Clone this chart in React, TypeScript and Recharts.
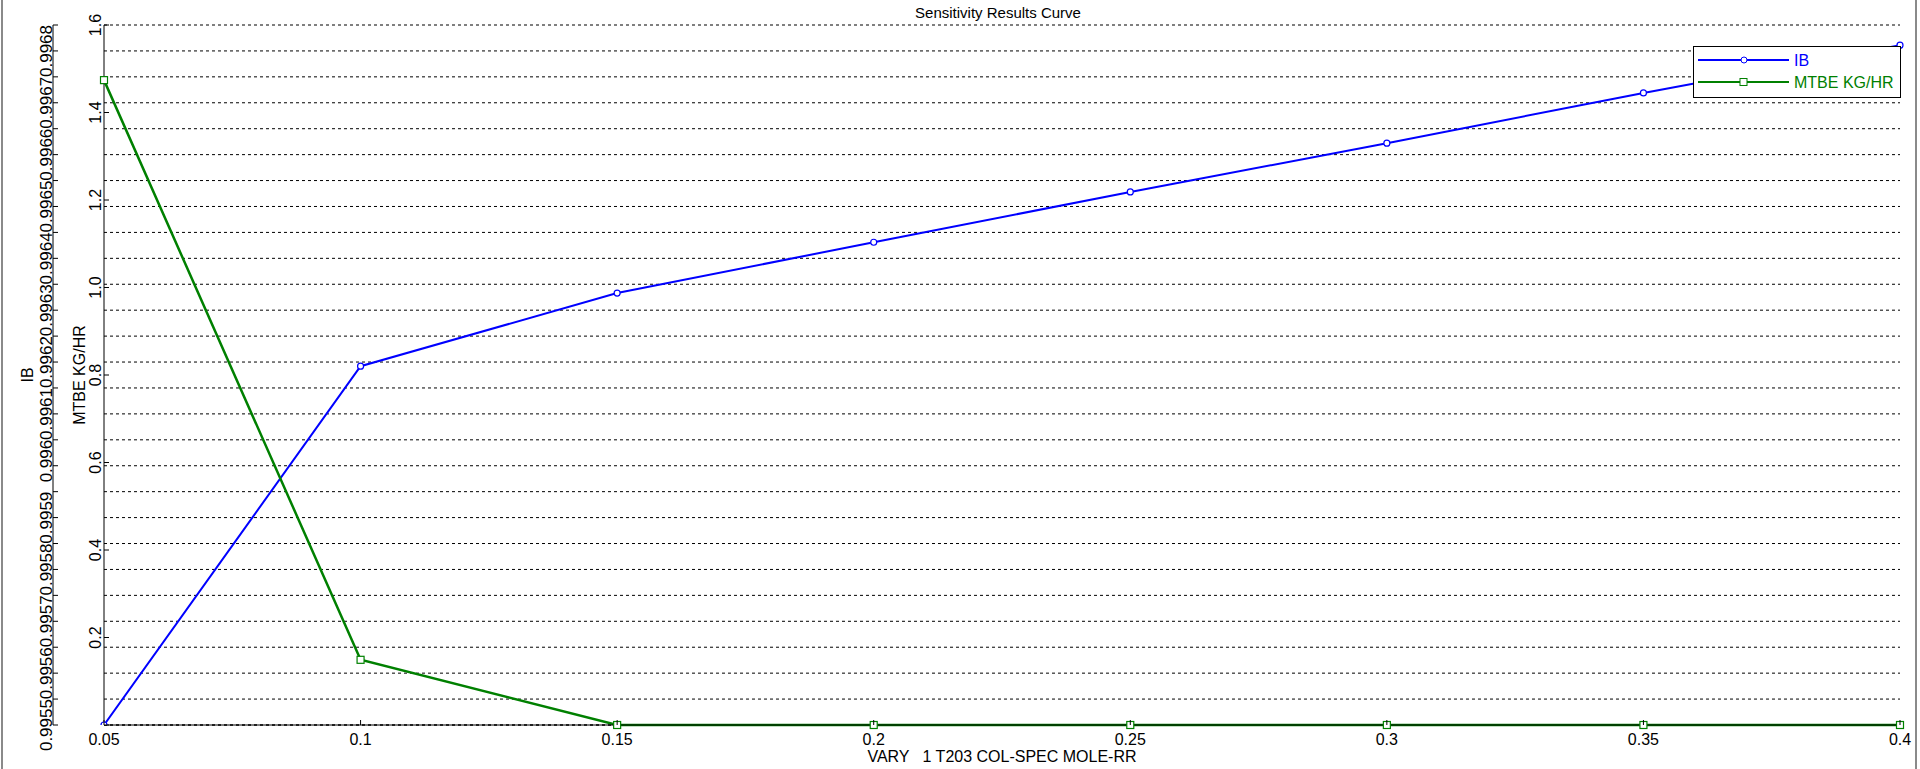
import { CartesianGrid, Legend, Line, LineChart, XAxis, YAxis } from 'recharts';

// sensitivity run: reflux ratio of T203 vs IB purity and MTBE flow
const varyRR = [0.05, 0.1, 0.15, 0.2, 0.25, 0.3, 0.35, 0.4];
const ibValues = [0.99545, 0.996142, 0.996283, 0.996381, 0.996478, 0.996572, 0.996669, 0.996761];
const mtbeValues = [1.474, 0.149, 0, 0, 0, 0, 0, 0];

const xTicks = [0.05, 0.1, 0.15, 0.2, 0.25, 0.3, 0.35, 0.4];
const mtbeTicks = [0, 0.2, 0.4, 0.6, 0.8, 1.0, 1.2, 1.4, 1.6];
const ibTickLabels = [
  '0.9955', '0.9956', '0.9957', '0.9958', '0.9959', '0.996', '0.9961',
  '0.9962', '0.9963', '0.9964', '0.9965', '0.9966', '0.9967', '0.9968',
];
// minor tick halfway below every labelled one
const ibTicks = ibTickLabels.flatMap((l) => [Number(l) - 0.00005, Number(l)]);

const BLUE = '#0000FF';
const GREEN = '#008000';
const FONT = "'Liberation Sans', Arial, sans-serif";

// axis ids are sorted: the first one sits next to the plot
const MTBE_AXIS = 'first';
const IB_AXIS = 'second';

const data = varyRR.map((x, i) => ({ x, ib: ibValues[i], mtbe: mtbeValues[i] }));

function IbTick({ x, y, payload }: any) {
  const label = ibTickLabels.find((l) => Math.abs(Number(l) - payload.value) < 1e-7);
  return (
    <g>
      <line x1={x} x2={x + 5} y1={y} y2={y} stroke="#000" />
      {label && (
        <text
          x={x - 1}
          y={y}
          transform={`rotate(-90 ${x - 1} ${y})`}
          textAnchor="end"
          fontSize={17}
          fontFamily={FONT}
          fill="#000"
        >
          {label}
        </text>
      )}
    </g>
  );
}

function MtbeTick({ x, y, payload }: any) {
  return (
    <g>
      <line x1={x} x2={x + 5} y1={y} y2={y} stroke="#000" />
      {payload.value > 0 && (
        <text
          x={x - 3}
          y={y}
          transform={`rotate(-90 ${x - 3} ${y})`}
          textAnchor="middle"
          fontSize={16}
          fontFamily={FONT}
          fill="#000"
        >
          {payload.value.toFixed(1)}
        </text>
      )}
    </g>
  );
}

function XTick({ x, y, payload }: any) {
  return (
    <g>
      <line x1={x} x2={x} y1={y} y2={y - 5} stroke="#000" />
      <text x={x} y={y + 20} textAnchor="middle" fontSize={16} fontFamily={FONT} fill="#000">
        {String(payload.value)}
      </text>
    </g>
  );
}

function RotTitle({ viewBox, text, dx }: any) {
  const bx = viewBox.x + dx;
  const cy = viewBox.y + viewBox.height / 2;
  return (
    <text
      x={bx}
      y={cy}
      transform={`rotate(-90 ${bx} ${cy})`}
      textAnchor="middle"
      fontSize={16}
      fontFamily={FONT}
      fill="#000"
    >
      {text}
    </text>
  );
}

function XTitle({ viewBox }: any) {
  return (
    <text
      x={viewBox.x + viewBox.width / 2}
      y={viewBox.y + 37}
      textAnchor="middle"
      fontSize={16}
      fontFamily={FONT}
      fill="#000"
      xmlSpace="preserve"
      style={{ whiteSpace: 'pre' }}
    >
      {'VARY   1 T203 COL-SPEC MOLE-RR'}
    </text>
  );
}

function LegendBox() {
  const rows = [
    { name: 'IB', color: BLUE, square: false },
    { name: 'MTBE KG/HR', color: GREEN, square: true },
  ];
  return (
    <div style={{ width: 206, height: 50, border: '1px solid #000', background: '#fff', position: 'relative' }}>
      <svg width={206} height={50} style={{ position: 'absolute', left: 0, top: 0 }}>
        {rows.map((r, i) => {
          const cy = 13 + i * 22;
          return (
            <g key={r.name}>
              <line x1={4} x2={95} y1={cy} y2={cy} stroke={r.color} strokeWidth={2} />
              {r.square ? (
                <rect x={46} y={cy - 3.5} width={7} height={7} fill="#fff" stroke={r.color} />
              ) : (
                <circle cx={50} cy={cy} r={3} fill="#fff" stroke={r.color} />
              )}
              <text x={100} y={cy + 6} fontSize={16} fontFamily={FONT} fill={r.color}>
                {r.name}
              </text>
            </g>
          );
        })}
      </svg>
    </div>
  );
}

export default function App() {
  return (
    <div
      style={{
        position: 'absolute',
        left: 0,
        top: 0,
        width: 1920,
        height: 769,
        background: '#fff',
        fontFamily: FONT,
      }}
    >
      <div style={{ position: 'absolute', left: 1, top: 0, width: 2, height: 769, background: '#8a8a8a' }} />
      <div style={{ position: 'absolute', left: 1915, top: 0, width: 2, height: 769, background: '#8a8a8a' }} />
      <div
        style={{
          position: 'absolute',
          left: 0,
          top: 4,
          width: 1996,
          textAlign: 'center',
          fontSize: 15,
          color: '#000',
          lineHeight: '17px',
        }}
      >
        Sensitivity Results Curve
      </div>
      <LineChart width={1920} height={769} data={data} margin={{ top: 25, right: 20, bottom: 0, left: 0 }}>
        <CartesianGrid yAxisId={IB_AXIS} vertical={false} stroke="#000" strokeDasharray="3 3" />
        <XAxis
          dataKey="x"
          type="number"
          domain={[0.05, 0.4]}
          ticks={xTicks}
          interval={0}
          height={44}
          tickSize={0}
          tickMargin={0}
          tickLine={false}
          axisLine={{ stroke: '#000' }}
          tick={<XTick />}
          label={<XTitle />}
        />
        <YAxis
          yAxisId={MTBE_AXIS}
          type="number"
          domain={[0, 1.6]}
          ticks={mtbeTicks}
          interval={0}
          width={51}
          tickSize={0}
          tickMargin={0}
          tickLine={false}
          axisLine={{ stroke: '#000' }}
          tick={<MtbeTick />}
          label={<RotTitle text="MTBE KG/HR" dx={32} />}
        />
        <YAxis
          yAxisId={IB_AXIS}
          type="number"
          domain={[0.99545, 0.9968]}
          ticks={ibTicks}
          interval={0}
          allowDataOverflow
          width={53}
          tickSize={0}
          tickMargin={0}
          tickLine={false}
          axisLine={{ stroke: '#000' }}
          tick={<IbTick />}
          label={<RotTitle text="IB" dx={33} />}
        />
        <Line
          yAxisId={IB_AXIS}
          dataKey="ib"
          stroke={BLUE}
          strokeWidth={2}
          isAnimationActive={false}
          dot={(p: any) => (
            <circle key={`ib-${p.index}`} cx={p.cx} cy={p.cy} r={3} fill="#fff" stroke={BLUE} strokeWidth={1.2} />
          )}
        />
        <Line
          yAxisId={MTBE_AXIS}
          dataKey="mtbe"
          stroke={GREEN}
          strokeWidth={2.5}
          isAnimationActive={false}
          dot={(p: any) => (
            <rect
              key={`mt-${p.index}`}
              x={p.cx - 3.5}
              y={p.cy - 3.5}
              width={7}
              height={7}
              fill="#fff"
              stroke={GREEN}
              strokeWidth={1.2}
            />
          )}
        />
        <Legend
          layout="vertical"
          align="center"
          verticalAlign="middle"
          wrapperStyle={{ position: 'absolute', left: 1693, top: 46, width: 208, height: 52 }}
          content={() => <LegendBox />}
        />
      </LineChart>
    </div>
  );
}
